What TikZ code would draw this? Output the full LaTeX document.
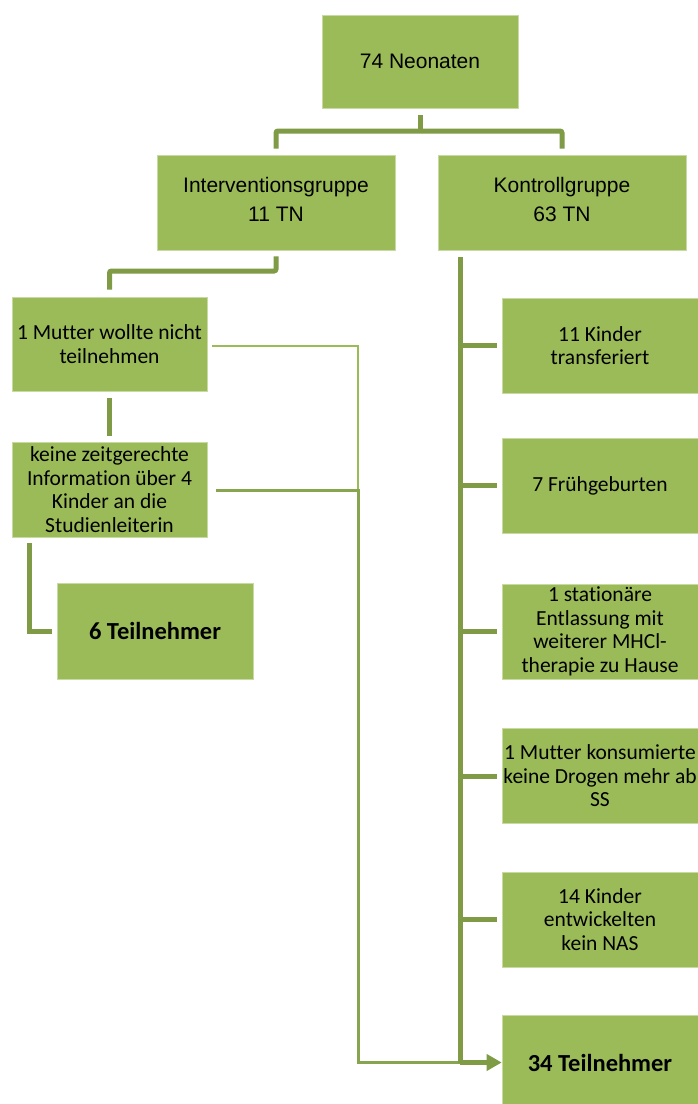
\documentclass[tikz,border=0pt]{standalone}
\usepackage{fontspec}
\setmainfont[Ligatures=NoCommon]{Carlito}
\newfontfamily\arialf{Liberation Sans}
\usetikzlibrary{arrows.meta}
\definecolor{boxgreen}{HTML}{9BBB59}
\definecolor{conngreen}{HTML}{7F9B46}
\definecolor{midgreen}{HTML}{87A54F}
\tikzset{
  box/.style={fill=boxgreen, draw=boxgreen!55!white, line width=0.6pt, align=center, inner sep=0pt},
  arialtxt/.style={font=\arialf\fontsize{21}{29}\selectfont},
  caltxt/.style={font=\fontsize{21.5}{23.5}\selectfont},
  boldtxt/.style={font=\bfseries\fontsize{24.5}{26}\selectfont},
  conn/.style={draw=conngreen, line width=5pt},
  thinline/.style={draw=boxgreen, line width=2pt},
  midline/.style={draw=midgreen, line width=3pt},
}
\begin{document}
\begin{tikzpicture}[x=1pt,y=-1pt]
\clip (0,0) rectangle (698,1104);
\fill[white] (0,0) rectangle (698,1104);
% boxes
\node[box,arialtxt,minimum width=196pt,minimum height=93pt] (top) at (420,61.5) {74 Neonaten};
\node[box,arialtxt,minimum width=238pt,minimum height=95pt] (ig) at (276,202.5) {Interventionsgruppe\\11 TN\\[-22pt]\mbox{}};
\node[box,arialtxt,minimum width=248pt,minimum height=95pt] (kg) at (562,202.5) {Kontrollgruppe\\63 TN\\[-22pt]\mbox{}};
\node[box,caltxt,minimum width=195pt,minimum height=94pt] (m1) at (109.5,344) {1 Mutter wollte nicht\\teilnehmen};
\node[box,caltxt,minimum width=195pt,minimum height=95pt] (kz) at (109.5,489.5) {keine zeitgerechte\\Information über 4\\Kinder an die\\Studienleiterin};
\node[box,boldtxt,minimum width=196pt,minimum height=96pt] (t6) at (155,631) {6 Teilnehmer};
\node[box,caltxt,minimum width=196pt,minimum height=95pt] (k1) at (600,345.5) {11 Kinder\\transferiert};
\node[box,caltxt,minimum width=196pt,minimum height=95pt] (k2) at (600,485.5) {7 Frühgeburten};
\node[box,caltxt,minimum width=196pt,minimum height=95pt] (k3) at (600,631.5) {1 stationäre\\Entlassung mit\\weiterer MHCl-\\therapie zu Hause};
\node[box,caltxt,minimum width=196pt,minimum height=95pt] (k4) at (600,776) {1 Mutter konsumierte\\keine Drogen mehr ab\\SS};
\node[box,caltxt,minimum width=196pt,minimum height=95pt] (k5) at (600,919.5) {14 Kinder\\entwickelten\\kein NAS};
\node[box,boldtxt,minimum width=196pt,minimum height=95pt] (t34) at (600,1062.5) {34 Teilnehmer};
% coordinates
\coordinate (j1) at (420,131);
\coordinate (j2) at (109.5,271);
\coordinate (trunk) at (460,257);
\coordinate (tb) at (460,1062.5);
\coordinate (jx) at (358,490);
\coordinate (jb) at (358,1062.5);
% tree connectors
\draw[conn] ([yshift=-7pt]top.south) -- (j1);
\draw[conn,rounded corners=2pt] ([yshift=6pt]ig.north) |- (j1) -| ([yshift=6pt]kg.north);
\draw[conn,rounded corners=2pt] ([yshift=-6pt]ig.south) |- (j2) -- ([yshift=7pt]m1.north);
\draw[conn] ([yshift=-7pt]m1.south) -- ([yshift=6pt]kz.north);
\draw[conn] ([xshift=-80pt,yshift=-6pt]kz.south) |- ([xshift=-5pt]t6.west);
% thin lines to 34
\draw[thinline] ([xshift=5pt,yshift=-2pt]m1.east) -| (jx);
\draw[midline] ([xshift=9pt,yshift=-0.5pt]kz.east) -| (jb) -- (tb);
% Kontrollgruppe trunk
\draw[conn] (trunk) -- (tb);
\draw[conn] (trunk |- k1.west) -- ([xshift=-5pt]k1.west);
\draw[conn] (trunk |- k2.west) -- ([xshift=-5pt]k2.west);
\draw[conn] (trunk |- k3.west) -- ([xshift=-5pt]k3.west);
\draw[conn] (trunk |- k4.west) -- ([xshift=-5pt]k4.west);
\draw[conn] (trunk |- k5.west) -- ([xshift=-5pt]k5.west);
\draw[conn,-{Triangle[length=15pt,width=16pt]}] (tb) -- (t34.west);
\end{tikzpicture}
\end{document}
